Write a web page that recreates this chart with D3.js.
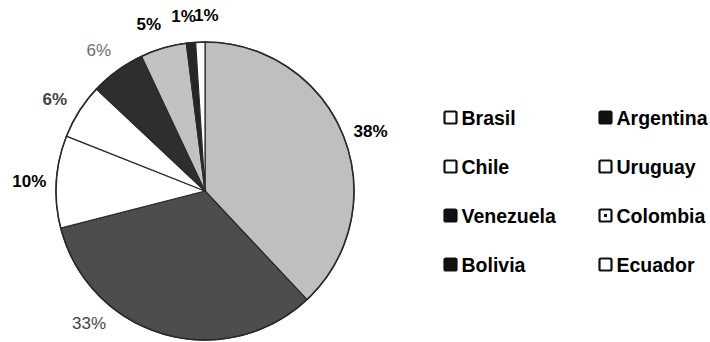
<!DOCTYPE html>
<html><head><meta charset="utf-8">
<script src="https://cdn.jsdelivr.net/npm/d3@7"></script>
<style>body{margin:0;background:#fff}svg{display:block}</style>
</head><body>
<script>
const countries = ["Brasil","Argentina","Chile","Uruguay","Venezuela","Colombia","Bolivia","Ecuador"];
const shares = [38,33,10,6,6,5,1,1];
const labels = ["38%","33%","10%","6%","6%","5%","1%","1%"];

// styling / layout (not data)
const fills = ["#bfbfbf","#4d4d4d","#ffffff","#ffffff","#2e2e2e","#c2c2c2","#262626","#ffffff"];
const labelColor = ["#000","#444","#000","#444","#6e6e6e","#000","#000","#000"];
const labelWeight = ["bold","normal","bold","bold","normal","bold","bold","bold"];
const labelNudgeDeg = [1.7,25,-0.4,-1,-1.1,-2.4,-1.6,2.2];
const legendMarker = ["hollow","filled","hollow","hollow","filled","dot","filled","hollow"];

const W=710,H=342, cx=205, cy=191, R=149, labelR=176;
const svg=d3.select("body").append("svg").attr("width",W).attr("height",H);
const g=svg.append("g").attr("transform",`translate(${cx},${cy})`);

const pie=d3.pie().sort(null).value(d=>d)(shares);
const arc=d3.arc().innerRadius(0).outerRadius(R);
g.selectAll("path.slice").data(pie).join("path").attr("class","slice")
 .attr("d",arc).attr("fill",(d,i)=>fills[i]).attr("stroke","#2a2a2a").attr("stroke-width",1.2);
g.append("circle").attr("r",R).attr("fill","none").attr("stroke","#2a2a2a").attr("stroke-width",1.5);

g.selectAll("text.lbl").data(pie).join("text").attr("class","lbl")
 .attr("x",(d,i)=>{const a=(d.startAngle+d.endAngle)/2+labelNudgeDeg[i]*Math.PI/180;return labelR*Math.sin(a);})
 .attr("y",(d,i)=>{const a=(d.startAngle+d.endAngle)/2+labelNudgeDeg[i]*Math.PI/180;return -labelR*Math.cos(a);})
 .attr("text-anchor","middle").attr("dominant-baseline","central")
 .attr("font-family","Liberation Sans, Arial, sans-serif").attr("font-size",17)
 .attr("font-weight",(d,i)=>labelWeight[i]).attr("fill",(d,i)=>labelColor[i])
 .text((d,i)=>labels[i]);

// legend
const lg=svg.append("g").attr("font-family","Liberation Sans, Arial, sans-serif");
const colX=[443,598], rowY=[117,166,215,264];
countries.forEach((c,i)=>{
  const x=colX[i%2], y=rowY[Math.floor(i/2)];
  const it=lg.append("g").attr("transform",`translate(${x},${y})`);
  const m=legendMarker[i];
  it.append("rect").attr("x",1.5).attr("y",-5.5).attr("width",12).attr("height",12).attr("rx",1.5)
    .attr("fill",m==="filled"?"#111":"#fff").attr("stroke","#111").attr("stroke-width",2.2);
  if(m==="dot") it.append("rect").attr("x",6).attr("y",-1).attr("width",3).attr("height",3).attr("fill","#111");
  it.append("text").attr("x",18.5).attr("y",1).attr("dominant-baseline","central")
    .attr("font-size",19.5).attr("font-weight","bold").attr("fill","#000").text(c);
});
</script>
</body></html>
